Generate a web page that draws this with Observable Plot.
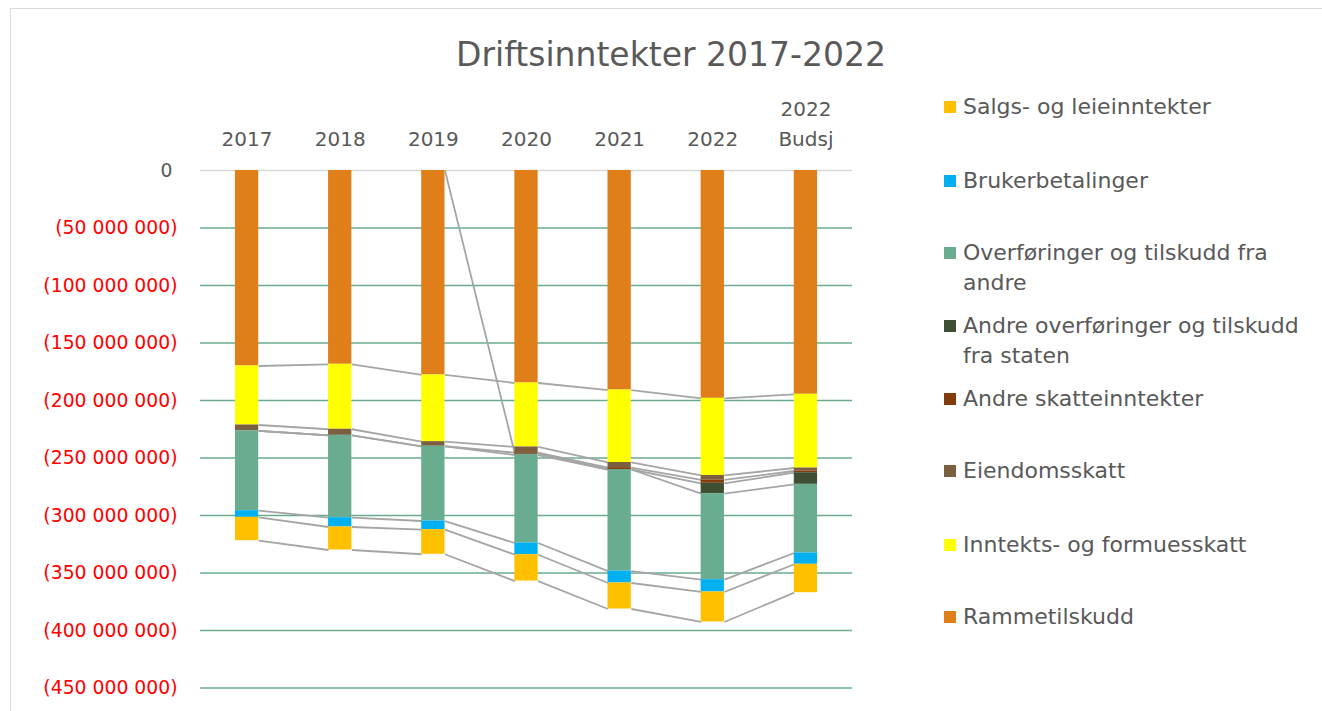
<!DOCTYPE html>
<html>
<head>
<meta charset="utf-8">
<script src="https://cdn.jsdelivr.net/npm/d3@7"></script>
<script src="https://cdn.jsdelivr.net/npm/@observablehq/plot@0.6"></script>
<style>
  html, body { margin: 0; padding: 0; background: #fff; }
  body { width: 1322px; height: 711px; overflow: hidden; position: relative; font-family: "DejaVu Sans", sans-serif; color: #595959; }
  #frame { position: absolute; left: 10px; top: 8px; width: 1400px; height: 800px; border: 1px solid #d9d9d9; }
  #title { position: absolute; left: 0; top: 35px; width: 1342px; text-align: center; font-size: 33px; line-height: 40px; color: #595959; }
  #chart { position: absolute; left: 0; top: 90px; }
  #legend { position: absolute; left: 0; top: 0; }
  .item { position: absolute; left: 944px; white-space: pre-line; font-size: 22px; line-height: 30px; color: #595959; }
  .sw { position: absolute; left: 0; top: 9px; width: 12px; height: 12px; }
  .lbl { position: absolute; left: 19px; top: 0; width: 380px; }
</style>
</head>
<body>
<div id="frame"></div>
<div id="title">Driftsinntekter 2017-2022</div>
<div id="chart"></div>
<div id="legend"></div>
<script>
// ---- Data (NOK, income shown as negative values) ----
const categories = ["2017", "2018", "2019", "2020", "2021", "2022", "2022\nBudsj"];

// stack order from 0 downward
const seriesNames = [
  "Rammetilskudd",
  "Inntekts- og formuesskatt",
  "Eiendomsskatt",
  "Andre skatteinntekter",
  "Andre overføringer og tilskudd fra staten",
  "Overføringer og tilskudd fra andre",
  "Brukerbetalinger",
  "Salgs- og leieinntekter"
];
const seriesColors = ["#E07E1A", "#FFFF00", "#7A6040", "#843C0C", "#3F4F33", "#6AAC8F", "#00B0F0", "#FFC000"];

const rammetilskudd        = [-170000000, -168500000, -177800000, -184800000, -190900000, -198100000, -194600000];
const inntektsFormuesskatt = [-51300000, -56500000, -58000000, -55600000, -63000000, -67100000, -64100000];
const eiendomsskatt        = [-5200000, -5300000, -4000000, -5000000, -4500000, -3900000, -2600000];
const andreSkatteinntekter = [0, 0, null, -900000, -1600000, -2900000, -1500000];
const andreOverfStaten     = [0, 0, 0, -1100000, 0, -9000000, -10100000];
const overfAndre           = [-69300000, -71600000, -65000000, -76500000, -88300000, -74800000, -59700000];
const brukerbetalinger     = [-5800000, -8100000, -7500000, -10200000, -10400000, -10700000, -9800000];
const salgsLeieinntekter   = [-20300000, -20000000, -21400000, -22900000, -22600000, -26100000, -24700000];

const yTicks = [0, -50000000, -100000000, -150000000, -200000000, -250000000, -300000000, -350000000, -400000000, -450000000];

// legend order (as in the reference)
const legendOrder = [
  "Salgs- og leieinntekter",
  "Brukerbetalinger",
  "Overføringer og tilskudd fra\nandre",
  "Andre overføringer og tilskudd\nfra staten",
  "Andre skatteinntekter",
  "Eiendomsskatt",
  "Inntekts- og formuesskatt",
  "Rammetilskudd"
];

// ---- Build stacked table ----
const seriesValues = [rammetilskudd, inntektsFormuesskatt, eiendomsskatt, andreSkatteinntekter,
                      andreOverfStaten, overfAndre, brukerbetalinger, salgsLeieinntekter];
const rows = [];
const ends = seriesNames.map(() => []);
categories.forEach((c, i) => {
  let acc = 0;
  seriesNames.forEach((s, k) => {
    const v = seriesValues[k][i];
    const y1 = acc, y2 = acc + (v ?? 0);
    if (v) rows.push({i, series: s, y1, y2});
    acc = y2;
    ends[k][i] = v == null ? 0 : y2;
  });
});
// series lines between consecutive bars
const hw = 0.125;
const segs = [];
seriesNames.forEach((s, k) => {
  for (let i = 0; i < categories.length - 1; i++) {
    if (seriesValues[k][i + 1] == null) continue;
    segs.push({x1: i + hw, x2: i + 1 - hw, y1: ends[k][i], y2: ends[k][i + 1]});
  }
});

const fmt = v => d3.format(",")(Math.abs(v)).replace(/,/g, " ");

const chart = Plot.plot({
  width: 870,
  height: 620,
  marginLeft: 200,
  marginRight: 18,
  marginTop: 80,
  marginBottom: 22.5,
  style: {fontFamily: "DejaVu Sans", color: "#595959", background: "transparent"},
  x: {type: "linear", domain: [-0.5, categories.length - 0.5], axis: null},
  y: {domain: [-450000000, 0], axis: null},
  color: {domain: seriesNames, range: seriesColors},
  marks: [
    Plot.ruleY(yTicks.filter(d => d < 0), {stroke: "#6AAB8E", strokeWidth: 1.5}),
    Plot.ruleY([0], {stroke: "#D9D9D9", strokeWidth: 1.5}),
    Plot.link(segs, {x1: "x1", y1: "y1", x2: "x2", y2: "y2", stroke: "#A5A5A5", strokeWidth: 1.8}),
    Plot.rectY(rows, {x1: d => d.i - hw, x2: d => d.i + hw, y1: "y1", y2: "y2", fill: "series", inset: 0}),
    Plot.axisY({ticks: yTicks.filter(d => d < 0), tickFormat: v => "(" + fmt(v) + ")", tickSize: 0, tickPadding: 23, fill: "#FF0000", fontSize: 18.8, label: null}),
    Plot.axisY({ticks: [0], tickFormat: () => "0", tickSize: 0, tickPadding: 28, fill: "#595959", fontSize: 18.8, label: null}),
    Plot.axisX({anchor: "top", ticks: categories.map((c, i) => i), tickFormat: i => categories[i], tickSize: 0, tickPadding: 25, lineHeight: 1.5, fill: "#595959", fontSize: 20, label: null})
  ]
});
document.getElementById("chart").appendChild(chart);

// ---- Legend ----
const legendTops = [92, 166, 238, 311, 384, 456, 530, 602];
const legend = document.getElementById("legend");
legendOrder.forEach((label, j) => {
  const name = label.replace("\n", " ");
  const k = seriesNames.indexOf(name);
  const item = document.createElement("div");
  item.className = "item";
  item.style.top = legendTops[j] + "px";
  const sw = document.createElement("div");
  sw.className = "sw";
  sw.style.background = seriesColors[k];
  const lbl = document.createElement("div");
  lbl.className = "lbl";
  lbl.textContent = label;
  item.appendChild(sw);
  item.appendChild(lbl);
  legend.appendChild(item);
});
</script>
</body>
</html>
